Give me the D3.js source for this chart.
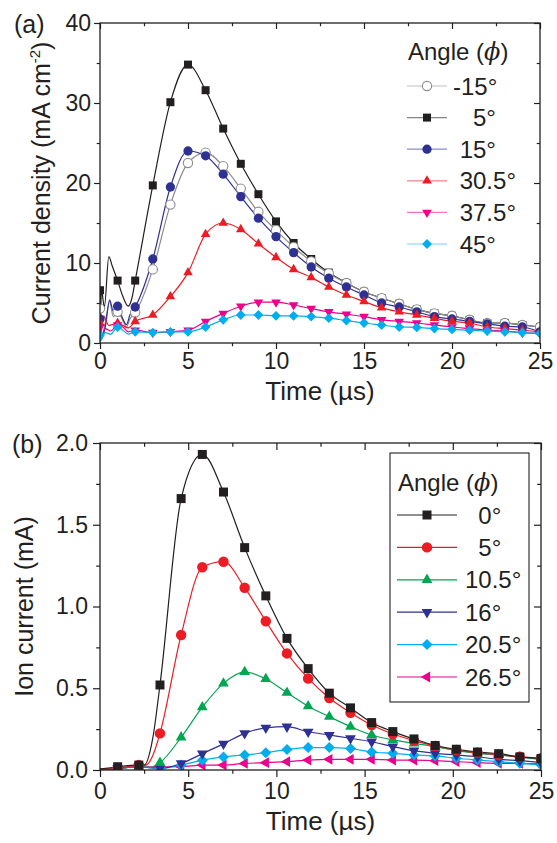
<!DOCTYPE html>
<html><head><meta charset="utf-8">
<script src="https://cdn.jsdelivr.net/npm/d3@7"></script>
<style>
body{margin:0;background:#fff}
svg{display:block}
text{font-family:"Liberation Sans",Arial,Helvetica,sans-serif;fill:#231f20}
</style>
</head><body>
<svg id="chart" width="557" height="843"></svg>
<script>
// ---------------- DATA ----------------
// Panel (a): current density (mA cm^-2) vs time (µs), markers every 1 µs
const timeA = [0,1,2,3,4,5,6,7,8,9,10,11,12,13,14,15,16,17,18,19,20,21,22,23,24,25];
const angleLabelsA = ["-15°","   5°"," 15°"," 30.5°"," 37.5°"," 45°"];
const densM15  = [4.3,3.9,3.8,9.2,17.3,22.5,23.8,22.1,19.3,16.4,14.1,12.0,10.2,8.7,7.5,6.4,5.6,4.9,4.2,3.7,3.4,2.9,2.5,2.5,2.25,2.0];
const dens5    = [6.6,7.8,7.8,19.7,30.1,34.8,31.6,26.8,22.4,18.6,15.2,12.5,10.5,8.8,7.5,6.4,5.6,4.9,4.2,3.7,3.4,2.9,2.5,2.5,2.25,2.0];
const dens15   = [3.0,4.6,4.5,10.5,19.5,24.0,23.4,21.1,18.3,15.6,13.3,11.3,9.5,8.1,7.0,6.0,5.0,4.5,3.9,3.3,3.0,2.7,2.4,2.1,2.0,1.4];
const dens30_5 = [2.5,2.5,2.7,3.5,5.8,8.8,13.6,15.0,14.2,12.4,10.7,9.2,8.2,7.0,6.0,5.2,4.4,3.9,3.5,3.1,2.7,2.5,2.0,1.8,1.6,1.4];
const dens37_5 = [2.0,2.25,1.6,1.3,1.4,1.6,2.7,3.7,4.6,5.1,5.1,4.75,4.3,3.9,3.6,3.3,2.9,2.7,2.5,2.25,2.0,1.8,1.6,1.5,1.3,1.2];
const dens45   = [1.0,2.0,1.4,1.3,1.4,1.4,2.0,2.9,3.5,3.5,3.4,3.4,3.3,3.1,2.8,2.5,2.25,2.0,1.95,1.8,1.7,1.6,1.5,1.4,1.3,1.2];
// extra line points (no markers) read from the early transient, [time, value]
const earlyM15  = [[0,0.3],[0.3,2.5],[0.55,5.2],[0.75,3.3],[1.3,2.8],[1.5,2.0],[1.7,3.0]];
const early5    = [[0,0.5],[0.08,6.6],[0.25,4.5],[0.5,10.8],[0.7,9.6],[1.3,5.8],[1.6,4.6],[1.8,5.5]];
const early15   = [[0,0.3],[0.3,2.0],[0.55,5.4],[0.75,4.0],[1.3,3.0],[1.5,2.3],[1.7,3.5]];
const early30_5 = [[0,0.3],[0.2,3.4],[0.5,2.2],[1.3,2.2],[1.6,1.9]];
const early37_5 = [[0,0.3],[0.3,1.8],[0.6,1.5],[1.3,2.0],[1.6,1.4]];
const early45   = [[0,0.2],[0.3,1.3],[0.6,1.1],[1.3,1.6],[1.6,1.1]];

// Panel (b): ion current (mA) vs time (µs), markers every 1.2 µs
const timeB = [1.0,2.2,3.4,4.6,5.8,7.0,8.2,9.4,10.6,11.8,13.0,14.2,15.4,16.6,17.8,19.0,20.2,21.4,22.6,23.8,25.0];
const angleLabelsB = ["  0°","  5°","10.5°","16°","20.5°","26.5°"];
const ion0    = [0.02,0.03,0.52,1.66,1.93,1.70,1.36,1.065,0.805,0.62,0.47,0.38,0.29,0.235,0.19,0.15,0.127,0.11,0.10,0.08,0.07];
const ion5    = [0.01,0.03,0.224,0.826,1.24,1.274,1.115,0.91,0.713,0.56,0.44,0.35,0.275,0.22,0.18,0.147,0.122,0.106,0.092,0.081,0.072];
const ion10_5 = [0.01,0.02,0.045,0.20,0.384,0.53,0.60,0.557,0.473,0.39,0.326,0.265,0.214,0.184,0.163,0.143,0.118,0.102,0.092,0.078,0.065];
const ion16   = [0.01,0.02,0.01,0.04,0.10,0.16,0.224,0.258,0.265,0.234,0.214,0.194,0.173,0.143,0.118,0.102,0.092,0.081,0.065,0.057,0.045];
const ion20_5 = [0.01,0.02,0.01,0.03,0.06,0.08,0.092,0.106,0.125,0.137,0.137,0.131,0.11,0.102,0.092,0.086,0.072,0.061,0.051,0.041,0.031];
const ion26_5 = [0.01,0.02,0.02,0.02,0.03,0.03,0.04,0.045,0.051,0.061,0.065,0.065,0.065,0.061,0.061,0.057,0.051,0.045,0.041,0.041,0.037];
const earlyB0    = [[0,0.005],[2.5,0.03],[3.0,0.2]];
const earlyB5    = [[0,0.005],[2.6,0.03],[3.0,0.09]];
const earlyB10_5 = [[0,0.005],[2.8,0.015]];
const earlyB16   = [[0,0.005]];
const earlyB20_5 = [[0,0.005]];
const earlyB26_5 = [[0,0.005]];

// axis ticks
const xMajor = [0,5,10,15,20,25], xMinor = [2.5,7.5,12.5,17.5,22.5];
const yAMajor = [0,10,20,30,40], yAMinor = [5,15,25,35];
const yBMajor = [0,0.5,1.0,1.5,2.0], yBMinor = [0.25,0.75,1.25,1.75];

// ---------------- STYLE ----------------
const BLACK="#231f20", GREY="#8c8c8c", BLUE="#2e3192", RED="#ed1c24", MAG="#ec008c", CYAN="#00aeef", GREEN="#00a651";

const seriesA = [
  {label:angleLabelsA[0], t:timeA, v:densM15,  early:earlyM15,  color:GREY,  shape:"circle", open:true, order:1},
  {label:angleLabelsA[1], t:timeA, v:dens5,    early:early5,    color:BLACK, shape:"square", order:0},
  {label:angleLabelsA[2], t:timeA, v:dens15,   early:early15,   color:BLUE,  shape:"circle", order:2},
  {label:angleLabelsA[3], t:timeA, v:dens30_5, early:early30_5, color:RED,   shape:"up",     order:3},
  {label:angleLabelsA[4], t:timeA, v:dens37_5, early:early37_5, color:MAG,   shape:"down",   order:4},
  {label:angleLabelsA[5], t:timeA, v:dens45,   early:early45,   color:CYAN,  shape:"diamond",order:5}
];
const seriesB = [
  {label:angleLabelsB[0], t:timeB, v:ion0,    early:earlyB0,    color:BLACK, shape:"square", order:5},
  {label:angleLabelsB[1], t:timeB, v:ion5,    early:earlyB5,    color:RED,   shape:"circle", order:4},
  {label:angleLabelsB[2], t:timeB, v:ion10_5, early:earlyB10_5, color:GREEN, shape:"up",     order:3},
  {label:angleLabelsB[3], t:timeB, v:ion16,   early:earlyB16,   color:BLUE,  shape:"down",   order:2},
  {label:angleLabelsB[4], t:timeB, v:ion20_5, early:earlyB20_5, color:CYAN,  shape:"diamond",order:1},
  {label:angleLabelsB[5], t:timeB, v:ion26_5, early:earlyB26_5, color:MAG,   shape:"left",   order:0}
];

const svg = d3.select("#chart");
const defs = svg.append("defs");

function symbolPath(shape, s){
  const map = {
    square: [d3.symbolSquare, s*s, 0],
    circle: [d3.symbolCircle, Math.PI*(s*0.58)*(s*0.58), 0],
    up:     [d3.symbolTriangle, s*s*0.62, 0],
    down:   [d3.symbolTriangle, s*s*0.62, 180],
    left:   [d3.symbolTriangle, s*s*0.62, -90],
    diamond:[d3.symbolSquare, s*s*0.75, 45]
  };
  const m = map[shape];
  return {d: d3.symbol().type(m[0]).size(m[1])(), rot: m[2]};
}
function drawMarker(g, shape, s, color, open, x, y){
  const p = symbolPath(shape, s);
  g.append("path").attr("d", p.d)
    .attr("transform", `translate(${x},${y}) rotate(${p.rot})`)
    .attr("fill", open ? "#fff" : color)
    .attr("stroke", open ? color : "none")
    .attr("stroke-width", open ? 1.1 : 0);
}

function panel(cfg){
  const {L,R,T,B,xDom,yDom,yMaj,yMin,yFmt,series,curve,msize,id} = cfg;
  const x = d3.scaleLinear().domain(xDom).range([L,R]);
  const y = d3.scaleLinear().domain(yDom).range([B,T]);
  const g = svg.append("g");
  defs.append("clipPath").attr("id",id).append("rect").attr("x",L).attr("y",T).attr("width",R-L).attr("height",B-T);

  const plot = g.append("g").attr("clip-path",`url(#${id})`);
  const line = d3.line().x(d=>x(d[0])).y(d=>y(d[1])).curve(curve);
  const sorted = series.slice().sort((a,b)=>a.order-b.order);
  sorted.forEach(s=>{
    const pts = s.t.map((t,i)=>[t,s.v[i]]).concat(s.early).sort((a,b)=>a[0]-b[0]);
    plot.append("path").attr("d",line(pts)).attr("fill","none").attr("stroke",s.color).attr("stroke-width",1.2);
  });
  sorted.forEach(s=>{
    const mg = plot.append("g");
    s.t.forEach((t,i)=>drawMarker(mg, s.shape, msize, s.color, s.open, x(t), y(s.v[i])));
  });

  const ax = g.append("g");
  const sty = sel=>{sel.select(".domain").remove(); sel.selectAll("line").attr("stroke",BLACK).attr("stroke-width",1.2);
    sel.selectAll("text").style("font-size",cfg.tickFont+"px").attr("fill",BLACK);};
  ax.append("g").attr("transform",`translate(0,${B})`)
    .call(d3.axisBottom(x).tickValues(xMajor).tickSize(cfg.tickLen).tickPadding(cfg.xPad).tickFormat(d3.format("d"))).call(sty);
  ax.append("g").attr("transform",`translate(0,${B})`)
    .call(d3.axisBottom(x).tickValues(xMinor).tickSize(cfg.tickLen*0.55).tickFormat("")).call(sty);
  ax.append("g").attr("transform",`translate(0,${T})`)
    .call(d3.axisTop(x).tickValues(xMajor).tickSize(-cfg.tickLen).tickFormat("")).call(sty);
  ax.append("g").attr("transform",`translate(0,${T})`)
    .call(d3.axisTop(x).tickValues(xMinor).tickSize(-cfg.tickLen*0.55).tickFormat("")).call(sty);
  ax.append("g").attr("transform",`translate(${L},0)`)
    .call(d3.axisLeft(y).tickValues(yMaj).tickSize(cfg.tickLen).tickPadding(cfg.yPad).tickFormat(yFmt)).call(sty);
  ax.append("g").attr("transform",`translate(${L},0)`)
    .call(d3.axisLeft(y).tickValues(yMin).tickSize(cfg.tickLen*0.55).tickFormat("")).call(sty);
  ax.append("g").attr("transform",`translate(${R},0)`)
    .call(d3.axisRight(y).tickValues(yMaj).tickSize(-cfg.tickLen).tickFormat("")).call(sty);
  ax.append("g").attr("transform",`translate(${R},0)`)
    .call(d3.axisRight(y).tickValues(yMin).tickSize(-cfg.tickLen*0.55).tickFormat("")).call(sty);
  g.append("rect").attr("x",L).attr("y",T).attr("width",R-L).attr("height",B-T)
    .attr("fill","none").attr("stroke",BLACK).attr("stroke-width",1.3);

  g.append("text").attr("x",(L+R)/2).attr("y",B+cfg.xTitleOff).attr("text-anchor","middle")
    .style("font-size",cfg.xTitleFont+"px").text("Time (\u00b5s)");
  const yt = g.append("text").attr("transform",`translate(${cfg.yTitleX},${(T+B)/2}) rotate(-90)`)
    .attr("text-anchor","middle").style("font-size",cfg.titleFont+"px");
  cfg.yTitle(yt);
  g.append("text").attr("x",cfg.panelX).attr("y",cfg.panelY).style("font-size",cfg.titleFont+"px").text(cfg.panelLabel);

  const lg = cfg.legend;
  const leg = g.append("g");
  if(lg.box) leg.append("rect").attr("x",lg.box[0]).attr("y",lg.box[1]).attr("width",lg.box[2]-lg.box[0]).attr("height",lg.box[3]-lg.box[1])
      .attr("fill","#fff").attr("stroke",BLACK).attr("stroke-width",1.1);
  const tt = leg.append("text").attr("x",lg.titleX).attr("y",lg.titleY).style("font-size",lg.font+"px");
  tt.append("tspan").text("Angle (");
  tt.append("tspan").style("font-style","italic").style("font-family","'DejaVu Serif',serif").text("\u03d5");
  tt.append("tspan").text(")");
  series.forEach((s,i)=>{
    const cy = lg.row0 + i*lg.step;
    leg.append("line").attr("x1",lg.x0).attr("x2",lg.x1).attr("y1",cy).attr("y2",cy)
      .attr("stroke",s.color).attr("stroke-width",1.2).attr("stroke-opacity",lg.lineOpacity);
    drawMarker(leg, s.shape, msize, s.color, s.open, (lg.x0+lg.x1)/2, cy);
    leg.append("text").attr("x",lg.textX).attr("y",cy+lg.font*0.36).style("font-size",lg.font+"px")
      .style("white-space","pre").attr("xml:space","preserve").text(s.label);
  });
}

panel({
  id:"clipA", L:100, R:540, T:23, B:343, xDom:[0,25], yDom:[0,40], yMaj:yAMajor, yMin:yAMinor, yFmt:d3.format("d"),
  series:seriesA, curve:d3.curveMonotoneX, msize:8,
  tickLen:6, xPad:4, yPad:3, tickFont:23, titleFont:25, xTitleFont:26, xTitleOff:57,
  yTitleX:50, panelX:14, panelY:33, panelLabel:"(a)",
  yTitle: t=>{ t.append("tspan").text("Current density (mA cm");
               t.append("tspan").attr("dy",-10).style("font-size","15px").text("-2");
               t.append("tspan").attr("dy",10).text(")"); },
  legend:{titleX:408, titleY:60, row0:86, step:31.6, x0:407, x1:447, textX:453, font:24, lineOpacity:0.55}
});
panel({
  id:"clipB", L:100, R:541, T:443, B:770, xDom:[0,25], yDom:[0,2.0], yMaj:yBMajor, yMin:yBMinor, yFmt:d3.format(".1f"),
  series:seriesB, curve:d3.curveMonotoneX, msize:9,
  tickLen:7, xPad:6, yPad:5, tickFont:23, titleFont:25, xTitleFont:26, xTitleOff:60,
  yTitleX:33, panelX:12, panelY:453, panelLabel:"(b)",
  yTitle: t=>{ t.text("Ion current (mA)"); },
  legend:{box:[390,453,529,702], titleX:398, titleY:491, row0:515, step:32.4, x0:397, x1:457, textX:465, font:24, lineOpacity:1}
});
</script>
</body></html>
